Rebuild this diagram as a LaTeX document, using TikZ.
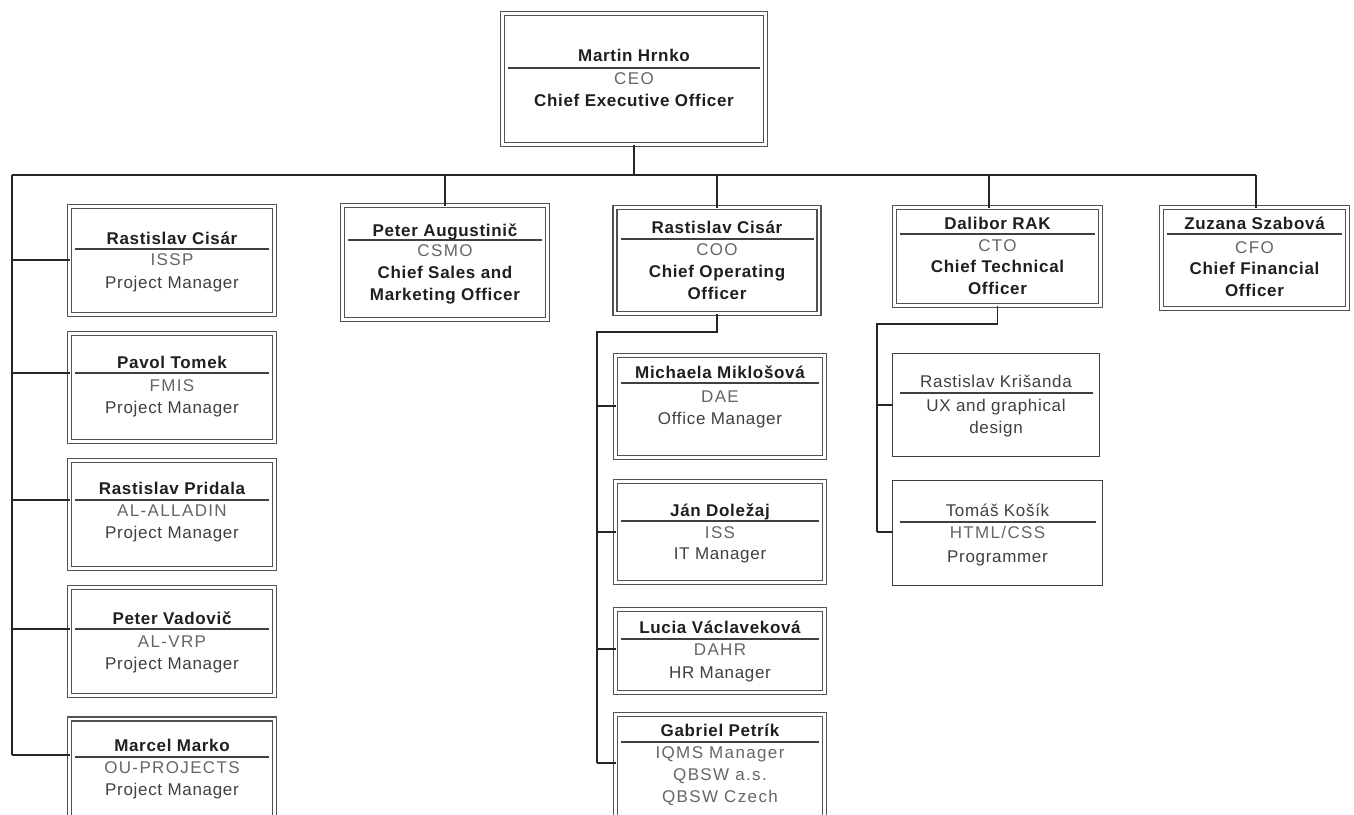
\documentclass[tikz,border=0pt]{standalone}
\usepackage{fontspec}
\newfontfamily\orgsans[LetterSpace=4]{Liberation Sans}
\newfontfamily\orgcode[LetterSpace=8]{Liberation Sans}
\begin{document}
\begin{tikzpicture}[x=1pt,y=-1pt,
  dbox/.style={draw=black!68, line width=1.6pt, double=white, double distance=2.2pt, fill=white, inner sep=0pt, outer sep=0pt},
  sbox/.style={draw=black!75, line width=1.4pt, fill=white, inner sep=0pt, outer sep=0pt},
  wire/.style={draw=black!85, line width=1.5pt},
  div/.style={draw=black!75, line width=1.3pt, shorten <=5.5pt, shorten >=5.5pt},
  nm/.style={anchor=base, inner sep=0pt, font=\orgsans\bfseries\fontsize{17}{22}\selectfont, text=black!88},
  nr/.style={anchor=base, inner sep=0pt, font=\orgsans\fontsize{17}{22}\selectfont, text=black!75},
  cd/.style={anchor=base, inner sep=0pt, font=\orgcode\fontsize{17}{22}\selectfont, text=black!60},
  tb/.style={anchor=base, inner sep=0pt, align=center, font=\orgsans\bfseries\fontsize{17}{22}\selectfont, text=black!88},
  tr/.style={anchor=base, inner sep=0pt, align=center, font=\orgsans\fontsize{17}{22}\selectfont, text=black!75}]
\useasboundingbox (0,0) rectangle (1354,814);
\clip (0,0) rectangle (1354,814);
\fill[white] (0,0) rectangle (1354,814);

% ---------- boxes ----------
\node[dbox, minimum width=263pt, minimum height=131pt] (ceo) at (634,79) {};
\node[dbox, minimum width=205pt, minimum height=114pt] (aug) at (445,262.5) {};
\node[dbox, minimum width=204pt, minimum height=106pt] (coo) at (717,260.5) {};
\node[dbox, minimum width=206pt, minimum height=98pt] (cto) at (997.5,256.5) {};
\node[dbox, minimum width=186pt, minimum height=101pt] (cfo) at (1254.5,258) {};

\node[dbox, minimum width=205pt, minimum height=108pt] (l1) at (172,260.5) {};
\node[dbox, minimum width=205pt, minimum height=108pt] (l2) at (172,387.5) {};
\node[dbox, minimum width=205pt, minimum height=108pt] (l3) at (172,514.5) {};
\node[dbox, minimum width=205pt, minimum height=108pt] (l4) at (172,641.5) {};
\node[dbox, minimum width=205pt, minimum height=108pt] (l5) at (172,773) {};

\node[dbox, minimum width=209pt, minimum height=102pt] (m1) at (720,406.5) {};
\node[dbox, minimum width=209pt, minimum height=101pt] (m2) at (720,532) {};
\node[dbox, minimum width=209pt, minimum height=83pt] (m3) at (720,651) {};
\node[dbox, minimum width=209pt, minimum height=115pt] (m4) at (720,772) {};

\node[sbox, minimum width=207pt, minimum height=103pt] (t1) at (996,405) {};
\node[sbox, minimum width=210pt, minimum height=105pt] (t2) at (997.5,533) {};

% ---------- dividers ----------
\draw[div] (ceo.west |- 0,68) -- (ceo.east |- 0,68);
\draw[div] (aug.west |- 0,240) -- (aug.east |- 0,240);
\draw[div] (coo.west |- 0,239) -- (coo.east |- 0,239);
\draw[div] (cto.west |- 0,234) -- (cto.east |- 0,234);
\draw[div] (cfo.west |- 0,234) -- (cfo.east |- 0,234);
\draw[div] (l1.west |- 0,249) -- (l1.east |- 0,249);
\draw[div] (l2.west |- 0,373) -- (l2.east |- 0,373);
\draw[div] (l3.west |- 0,500) -- (l3.east |- 0,500);
\draw[div] (l4.west |- 0,629) -- (l4.east |- 0,629);
\draw[div] (l5.west |- 0,757) -- (l5.east |- 0,757);
\draw[div] (m1.west |- 0,383) -- (m1.east |- 0,383);
\draw[div] (m2.west |- 0,521) -- (m2.east |- 0,521);
\draw[div] (m3.west |- 0,639) -- (m3.east |- 0,639);
\draw[div] (m4.west |- 0,742) -- (m4.east |- 0,742);
\draw[div,shorten <=7pt,shorten >=7pt] (t1.west |- 0,393) -- (t1.east |- 0,393);
\draw[div,shorten <=7pt,shorten >=7pt] (t2.west |- 0,522) -- (t2.east |- 0,522);

% ---------- texts ----------
\node[nm] (ceo-n) at (634,61) {Martin Hrnko};
\node[cd] (ceo-c) at (634,84) {CEO};
\node[tb] (ceo-t) at (634,106) {Chief Executive Officer};

\node[nm] (aug-n) at (445,236) {Peter Augustinič};
\node[cd] (aug-c) at (445,256) {CSMO};
\node[tb] (aug-t) at (445,300) {Chief Sales and\\Marketing Officer};

\node[nm] (coo-n) at (717,233) {Rastislav Cisár};
\node[cd] (coo-c) at (717,255) {COO};
\node[tb] (coo-t) at (717,299) {Chief Operating\\Officer};

\node[nm] (cto-n) at (997.5,229) {Dalibor RAK};
\node[cd] (cto-c) at (997.5,251) {CTO};
\node[tb] (cto-t) at (997.5,294) {Chief Technical\\Officer};

\node[nm] (cfo-n) at (1254.5,229) {Zuzana Szabová};
\node[cd] (cfo-c) at (1254.5,253) {CFO};
\node[tb] (cfo-t) at (1254.5,296) {Chief Financial\\Officer};

\node[nm] (l1-n) at (172,244) {Rastislav Cisár};
\node[cd] (l1-c) at (172,265) {ISSP};
\node[tr] (l1-t) at (172,288) {Project Manager};

\node[nm] (l2-n) at (172,368) {Pavol Tomek};
\node[cd] (l2-c) at (172,391) {FMIS};
\node[tr] (l2-t) at (172,413) {Project Manager};

\node[nm] (l3-n) at (172,494) {Rastislav Pridala};
\node[cd] (l3-c) at (172,516) {AL-ALLADIN};
\node[tr] (l3-t) at (172,538) {Project Manager};

\node[nm] (l4-n) at (172,624) {Peter Vadovič};
\node[cd] (l4-c) at (172,647) {AL-VRP};
\node[tr] (l4-t) at (172,669) {Project Manager};

\node[nm] (l5-n) at (172,751) {Marcel Marko};
\node[cd] (l5-c) at (172,773) {OU-PROJECTS};
\node[tr] (l5-t) at (172,795) {Project Manager};

\node[nm] (m1-n) at (720,378) {Michaela Miklošová};
\node[cd] (m1-c) at (720,402) {DAE};
\node[tr] (m1-t) at (720,424) {Office Manager};

\node[nm] (m2-n) at (720,516) {Ján Doležaj};
\node[cd] (m2-c) at (720,538) {ISS};
\node[tr] (m2-t) at (720,559) {IT Manager};

\node[nm] (m3-n) at (720,633) {Lucia Václaveková};
\node[cd] (m3-c) at (720,655) {DAHR};
\node[tr] (m3-t) at (720,678) {HR Manager};

\node[nm] (m4-n) at (720,736) {Gabriel Petrík};
\node[cd] (m4-c) at (720,758) {IQMS Manager};
\node[cd, align=center] (m4-t) at (720,802) {QBSW a.s.\\QBSW Czech};

\node[nr] (t1-n) at (996,387) {Rastislav Krišanda};
\node[tr] (t1-t) at (996,433) {UX and graphical\\design};

\node[nr] (t2-n) at (997.5,516) {Tomáš Košík};
\node[cd] (t2-c) at (997.5,538) {HTML/CSS};
\node[tr] (t2-t) at (997.5,562) {Programmer};

% ---------- connectors ----------
\coordinate (bL) at (12,175);
\coordinate (bR) at (1256,175);
\coordinate (ctoTop) at (989,175);
\coordinate (lEnd) at (12,755);
\coordinate (cJ) at (597,332);
\coordinate (cEnd) at (597,763);
\coordinate (tJ) at (877,324);
\coordinate (tEnd) at (877,532);

\draw[wire] (ceo.south) -- (ceo.south |- bL);
\draw[wire] (bL) -- (bR);
\draw[wire] (aug.north |- bL) -- (aug.north);
\draw[wire] (coo.north |- bL) -- (coo.north);
\draw[wire] (ctoTop) -- (ctoTop |- cto.north);
\draw[wire] (bR) -- (bR |- cfo.north);

\draw[wire] (bL) -- (lEnd);
\draw[wire] (bL |- 0,260) -- (l1.west |- 0,260);
\draw[wire] (bL |- 0,373) -- (l2.west |- 0,373);
\draw[wire] (bL |- 0,500) -- (l3.west |- 0,500);
\draw[wire] (bL |- 0,629) -- (l4.west |- 0,629);
\draw[wire] (lEnd) -- (l5.west |- lEnd);

\draw[wire] (coo.south) |- (cJ) -- (cEnd);
\draw[wire] (cJ |- 0,406) -- (m1.west |- 0,406);
\draw[wire] (cJ |- 0,532) -- (m2.west |- 0,532);
\draw[wire] (cJ |- 0,649) -- (m3.west |- 0,649);
\draw[wire] (cEnd) -- (m4.west |- cEnd);

\draw[wire] (cto.south) |- (tJ) -- (tEnd);
\draw[wire] (tJ |- t1.west) -- (t1.west);
\draw[wire] (tEnd) -- (t2.west |- tEnd);
\end{tikzpicture}
\end{document}
